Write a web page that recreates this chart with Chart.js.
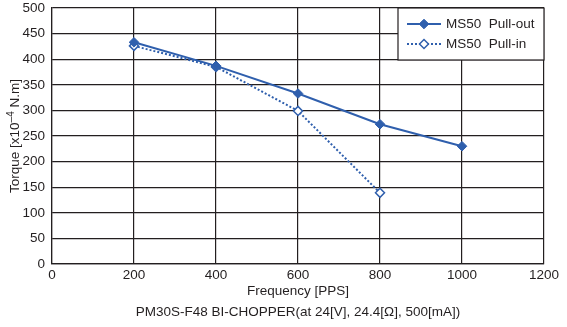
<!DOCTYPE html>
<html>
<head>
<meta charset="utf-8">
<script src="https://cdn.jsdelivr.net/npm/chart.js@4/dist/chart.umd.min.js"></script>
<style>
  html, body { margin: 0; padding: 0; background: #fff; }
  #wrap { width: 567px; height: 327px; }
</style>
</head>
<body>
<div id="wrap"><canvas id="c" width="567" height="327"></canvas></div>
<script>
// Torque curves for the PM30S-F48 driven by BI-CHOPPER
const pullOutFreq = [200, 400, 600, 800, 1000];
const pullOutTorque = [433, 387, 333, 273, 230];
const pullInFreq = [200, 400, 600, 800];
const pullInTorque = [426, 385, 299, 139];
const seriesNames = ['MS50  Pull-out', 'MS50  Pull-in'];
const xTitle = 'Frequency [PPS]';
const subTitle = 'PM30S-F48 BI-CHOPPER(at 24[V], 24.4[\u03A9], 500[mA])';
// y-axis title pieces: base text, superscript exponent, tail
const yTitleParts = ['Torque [x10', '\u20134', ' N.m]'];

const BLUE = '#2f5fad';
const INK = '#231f20';
const FONT = "'Liberation Sans', Arial, Helvetica, sans-serif";
const FS = 13.5;

const toPoints = (xs, ys) => xs.map((x, i) => ({ x, y: ys[i] }));

// Rotated y-axis title with a raised exponent
const yAxisTitle = {
  id: 'yAxisTitle',
  afterDraw(chart) {
    const { ctx, chartArea } = chart;
    const [a, sup, b] = yTitleParts;
    const big = FS + 'px ' + FONT;
    const small = '10px ' + FONT;
    ctx.save();
    ctx.font = big;
    const wa = ctx.measureText(a).width;
    const wb = ctx.measureText(b).width;
    ctx.font = small;
    const ws = ctx.measureText(sup).width;
    const total = wa + ws + wb;
    ctx.translate(15, (chartArea.top + chartArea.bottom) / 2);
    ctx.rotate(-Math.PI / 2);
    ctx.fillStyle = INK;
    ctx.textBaseline = 'middle';
    ctx.textAlign = 'left';
    let x = -total / 2;
    ctx.font = big;
    ctx.fillText(a, x, 0);
    x += wa;
    ctx.font = small;
    ctx.fillText(sup, x, -4);
    x += ws;
    ctx.font = big;
    ctx.fillText(b, x, 0);
    ctx.restore();
  }
};

// Boxed legend drawn in the top-right corner of the plot
const boxLegend = {
  id: 'boxLegend',
  afterDraw(chart) {
    const { ctx, chartArea } = chart;
    const w = 146, h = 52;
    const x0 = chartArea.right - w, y0 = chartArea.top;
    ctx.save();
    ctx.fillStyle = '#fff';
    ctx.fillRect(x0, y0, w, h);
    ctx.strokeStyle = INK;
    ctx.lineWidth = 1.2;
    ctx.strokeRect(x0, y0, w, h);
    chart.data.datasets.forEach((ds, i) => {
      const y = y0 + 16 + i * 20;
      ctx.strokeStyle = ds.borderColor;
      ctx.lineWidth = ds.borderWidth;
      ctx.setLineDash(ds.borderDash || []);
      ctx.beginPath();
      ctx.moveTo(x0 + 9, y);
      ctx.lineTo(x0 + 43, y);
      ctx.stroke();
      ctx.setLineDash([]);
      ctx.fillStyle = ds.pointBackgroundColor;
      ctx.strokeStyle = ds.pointBorderColor;
      ctx.lineWidth = ds.pointBorderWidth;
      Chart.helpers.drawPoint(ctx, {
        pointStyle: ds.pointStyle,
        radius: ds.pointRadius,
        rotation: 0,
        borderWidth: ds.pointBorderWidth
      }, x0 + 26, y);
      ctx.fillStyle = INK;
      ctx.font = FS + 'px ' + FONT;
      ctx.textBaseline = 'middle';
      ctx.textAlign = 'left';
      ctx.fillText(ds.label, x0 + 48, y);
    });
    ctx.restore();
  }
};

new Chart(document.getElementById('c'), {
  type: 'line',
  data: {
    datasets: [
      {
        label: seriesNames[0],
        data: toPoints(pullOutFreq, pullOutTorque),
        borderColor: BLUE,
        borderWidth: 2,
        pointStyle: 'rectRot',
        pointRadius: 4.8,
        pointBackgroundColor: BLUE,
        pointBorderColor: BLUE,
        pointBorderWidth: 1,
        tension: 0
      },
      {
        label: seriesNames[1],
        data: toPoints(pullInFreq, pullInTorque),
        borderColor: BLUE,
        borderWidth: 2,
        borderDash: [2, 2],
        pointStyle: 'rectRot',
        pointRadius: 4.5,
        pointBackgroundColor: '#fff',
        pointBorderColor: BLUE,
        pointBorderWidth: 1.5,
        tension: 0
      }
    ]
  },
  options: {
    responsive: false,
    animation: false,
    events: [],
    layout: { padding: { left: 0, top: 8, right: 23, bottom: 0 } },
    plugins: { legend: { display: false }, tooltip: { enabled: false } },
    scales: {
      x: {
        type: 'linear',
        min: 0, max: 1200,
        ticks: { stepSize: 200, color: INK, font: { family: FONT, size: FS }, padding: 3, maxRotation: 0,
                 callback: v => String(v) },
        grid: { color: INK, lineWidth: 1.2, drawTicks: false },
        border: { color: INK, width: 1.2 },
        title: {
          display: true,
          text: [xTitle, subTitle],
          color: INK,
          font: { family: FONT, size: FS, lineHeight: 1.55 },
          padding: { top: 0, bottom: 4 }
        },
        afterFit(scale) {
          scale.height = 63;
          scale.paddingLeft = 0;
          scale.paddingRight = 0;
        }
      },
      y: {
        min: 0, max: 500,
        ticks: { stepSize: 50, color: INK, font: { family: FONT, size: FS }, padding: 7,
                 callback: v => String(v) },
        grid: { color: INK, lineWidth: 1.2, drawTicks: false },
        border: { color: INK, width: 1.2 },
        afterFit(scale) {
          scale.width = 52;
          scale.paddingTop = 0;
          scale.paddingBottom = 0;
        }
      }
    }
  },
  plugins: [boxLegend, yAxisTitle]
});
</script>
</body>
</html>
